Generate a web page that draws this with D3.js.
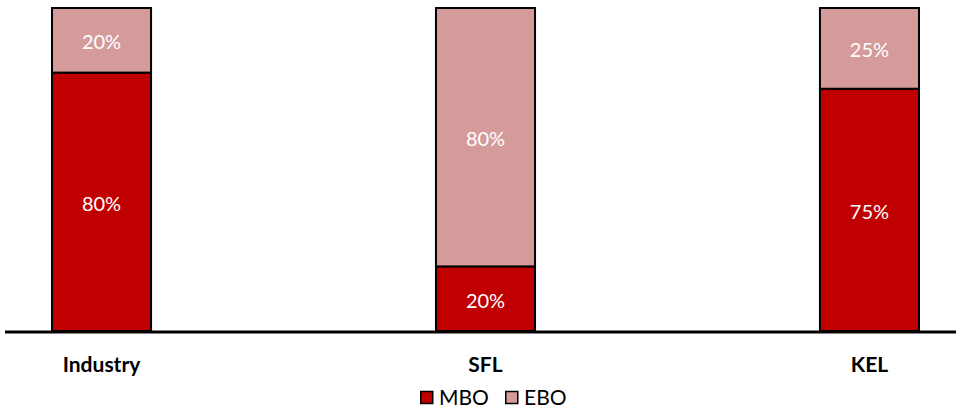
<!DOCTYPE html>
<html><head><meta charset="utf-8">
<script src="https://cdn.jsdelivr.net/npm/d3@7"></script>
<style>body{margin:0;background:#fff}svg{display:block}</style>
</head><body>
<svg id="c" width="956" height="410"></svg>
<script>
const categories = ["Industry", "SFL", "KEL"];
const mbo = [80, 20, 75];
const ebo = [20, 80, 25];
const seriesNames = ["MBO", "EBO"];
const colors = {MBO: "#C00000", EBO: "#D59B9B"};

const svg = d3.select("#c");
const font = "Lato, 'Open Sans', sans-serif";
const x = d3.scaleBand().domain(categories).range([5, 966]).paddingInner(0.742).paddingOuter(0.1224);
const y = d3.scaleLinear().domain([0, 100]).range([331, 8]);

const rows = categories.map((c, i) => ({cat: c, MBO: mbo[i], EBO: ebo[i]}));
const stack = d3.stack().keys(seriesNames)(rows);

const g = svg.append("g");
stack.forEach(s => {
  g.selectAll(null).data(s).enter().append("rect")
    .attr("x", d => x(d.data.cat))
    .attr("width", x.bandwidth())
    .attr("y", d => y(d[1]))
    .attr("height", d => y(d[0]) - y(d[1]))
    .attr("fill", colors[s.key])
    .attr("stroke", "#000").attr("stroke-width", 2);
  g.selectAll(null).data(s).enter().append("text")
    .attr("x", d => x(d.data.cat) + x.bandwidth() / 2)
    .attr("y", d => (y(d[0]) + y(d[1])) / 2)
    .attr("dy", "0.44em")
    .attr("text-anchor", "middle")
    .attr("fill", "#fff")
    .style("font-family", font).style("font-size", "20px")
    .text(d => (d[1] - d[0]) + "%");
});

// axis baseline
svg.append("line").attr("x1", 5).attr("x2", 956).attr("y1", y(0) + 1).attr("y2", y(0) + 1)
  .attr("stroke", "#000").attr("stroke-width", 3);

// category labels
svg.selectAll(null).data(categories).enter().append("text")
  .attr("x", d => x(d) + x.bandwidth() / 2)
  .attr("y", 372)
  .attr("text-anchor", "middle")
  .style("font-family", font).style("font-size", "21px").style("font-weight", "bold")
  .attr("fill", "#000")
  .text(d => d);

// legend
const leg = svg.append("g");
const items = [{k: "MBO", x: 420}, {k: "EBO", x: 505}];
items.forEach(it => {
  leg.append("rect").attr("x", it.x + 0.75).attr("y", 391.5).attr("width", 12).attr("height", 12)
    .attr("fill", colors[it.k]).attr("stroke", "#000").attr("stroke-width", 1.5);
  leg.append("text").attr("x", it.x + 19).attr("y", 405)
    .style("font-family", font).style("font-size", "21px").attr("fill", "#000").text(it.k);
});
</script>
</body></html>
